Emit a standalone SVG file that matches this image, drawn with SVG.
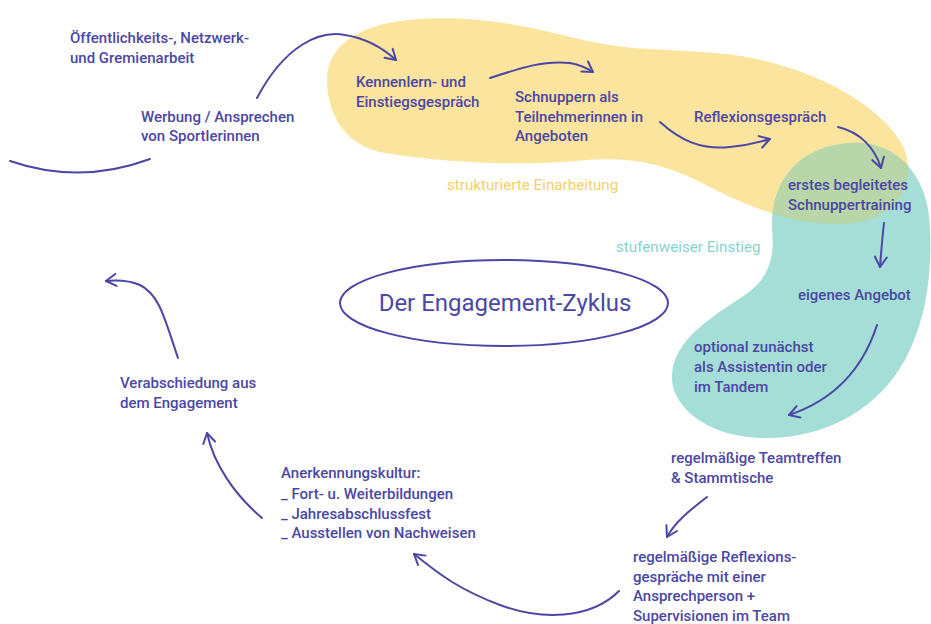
<svg xmlns="http://www.w3.org/2000/svg" width="931" height="624" viewBox="0 0 931 624">
<style>
.t{font-family:Roboto,"Liberation Sans",sans-serif;font-weight:500;font-size:15px;fill:#4c47a4}
.c{fill:none;stroke:#4c47a4;stroke-width:2;stroke-linecap:round}
.y{font-family:Roboto,"Liberation Sans",sans-serif;font-size:15.2px;fill:#f6cf6c}
.g{font-family:Roboto,"Liberation Sans",sans-serif;font-size:15.2px;fill:#86d3cb}
</style>
<defs>
<marker id="ah" markerUnits="userSpaceOnUse" markerWidth="30" markerHeight="30" refX="0" refY="0" viewBox="-15 -15 30 30" orient="auto" overflow="visible">
<path d="M-10,-6 L0,0 L-10,6" fill="none" stroke="#4c47a4" stroke-width="2" stroke-linecap="round" stroke-linejoin="round"/>
</marker>
<path id="yb" d="M327,82 C326,42 365,22 420,19 C475,16 520,24 575,38 C630,52 670,48 725,54 C800,62 880,100 904,148 C918,185 895,222 843,224 C790,226 745,205 700,182 C660,162 625,156 575,161 C520,166 445,163 385,153 C345,146 328,115 327,82 Z"/>
<path id="tb" d="M850,143 C900,140 930,180 930,230 C932,280 925,322 905,360 C880,405 830,440 760,438 C705,436 670,405 672,375 C674,340 710,318 745,295 C770,278 775,255 772,230 C770,180 800,146 850,143 Z"/>
<clipPath id="ycl"><use href="#yb"/></clipPath>
</defs>
<rect width="931" height="624" fill="#ffffff"/>
<g id="blobs">
<use href="#yb" fill="#fbe49d"/>
<use href="#tb" fill="#a5ded7"/>
<use href="#tb" fill="#b8d6a7" clip-path="url(#ycl)"/>
</g>
<g id="labels-areas">
<text class="y" x="447" y="190">strukturierte Einarbeitung</text>
<text class="g" x="616" y="252">stufenweiser Einstieg</text>
</g>
<g id="center">
<ellipse cx="504" cy="303" rx="164" ry="43" fill="none" stroke="#4c47a4" stroke-width="2"/>
<text x="505" y="311" text-anchor="middle" style="font-family:Roboto,'Liberation Sans',sans-serif;font-size:24px;fill:#4c47a4">Der Engagement-Zyklus</text>
</g>
<g id="n-oeffentlich"><text class="t" x="70" y="43">Öffentlichkeits-, Netzwerk-</text><text class="t" x="70" y="63">und Gremienarbeit</text></g>
<g id="n-werbung"><text class="t" x="141" y="122">Werbung / Ansprechen</text><text class="t" x="141" y="141">von Sportlerinnen</text></g>
<g id="n-kennenlern"><text class="t" x="356" y="87">Kennenlern- und</text><text class="t" x="356" y="107">Einstiegsgespräch</text></g>
<g id="n-schnuppern"><text class="t" x="515" y="102">Schnuppern als</text><text class="t" x="515" y="122">Teilnehmerinnen in</text><text class="t" x="515" y="141">Angeboten</text></g>
<g id="n-reflexion"><text class="t" x="694" y="122">Reflexionsgespräch</text></g>
<g id="n-erstes"><text class="t" x="788" y="190">erstes begleitetes</text><text class="t" x="788" y="210">Schnuppertraining</text></g>
<g id="n-eigenes"><text class="t" x="798" y="300">eigenes Angebot</text></g>
<g id="n-optional"><text class="t" x="694" y="352">optional zunächst</text><text class="t" x="694" y="372">als Assistentin oder</text><text class="t" x="694" y="392">im Tandem</text></g>
<g id="n-team"><text class="t" x="671" y="463">regelmäßige Teamtreffen</text><text class="t" x="671" y="483">&amp; Stammtische</text></g>
<g id="n-reflexgespr"><text class="t" x="633" y="562">regelmäßige Reflexions-</text><text class="t" x="633" y="582">gespräche mit einer</text><text class="t" x="633" y="601">Ansprechperson +</text><text class="t" x="633" y="621">Supervisionen im Team</text></g>
<g id="n-anerkennung"><text class="t" x="281" y="478">Anerkennungskultur:</text><text class="t" x="281" y="499">_ Fort- u. Weiterbildungen</text><text class="t" x="281" y="519">_ Jahresabschlussfest</text><text class="t" x="281" y="538">_ Ausstellen von Nachweisen</text></g>
<g id="n-verabschiedung"><text class="t" x="120" y="388">Verabschiedung aus</text><text class="t" x="120" y="408">dem Engagement</text></g>
<g id="connectors">
<path class="c" d="M10,161 Q80,185 150,159"/>
<path class="c" marker-end="url(#ah)" d="M257,98 C285,45 320,30 345,35 C370,39 385,50 396,60"/>
<path class="c" marker-end="url(#ah)" d="M490,78 C520,68 545,60 570,63 C580,65 587,68 593,72"/>
<path class="c" marker-end="url(#ah)" d="M660,122 C680,140 700,150 730,147 C750,145 760,142 770,139"/>
<path class="c" marker-end="url(#ah)" d="M838,127 C860,132 875,148 881,168"/>
<path class="c" marker-end="url(#ah)" d="M884,223 C882,240 881,255 880,267"/>
<path class="c" marker-end="url(#ah)" d="M877,325 C865,362 840,398 789,415"/>
<path class="c" marker-end="url(#ah)" d="M707,497 C690,510 675,522 667,537"/>
<path class="c" marker-end="url(#ah)" d="M619,591 C590,620 540,620 500,605 C460,590 440,575 414,554"/>
<path class="c" marker-end="url(#ah)" d="M262,518 C235,495 214,465 207,433"/>
<path class="c" marker-end="url(#ah)" d="M178,358 C165,320 160,295 140,285 C128,280 115,280 106,281"/>
</g>
</svg>
